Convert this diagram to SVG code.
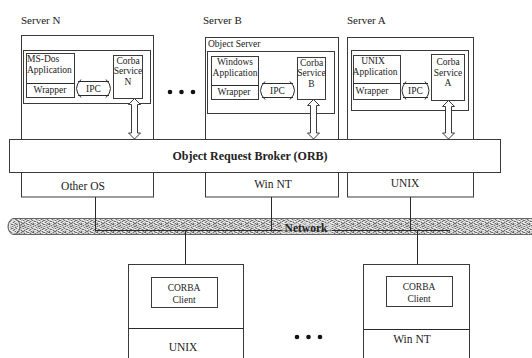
<svg xmlns="http://www.w3.org/2000/svg" width="532" height="358" viewBox="0 0 532 358">
<defs>
<pattern id="noise" width="16" height="8" patternUnits="userSpaceOnUse">
<rect width="16" height="8" fill="#c2c2c2"/>
<path d="M0 0h2v1H0zM5 0h1v1H5zM11 0h2v1h-2zM3 1h1v1H3zM8 1h1v1H8zM14 1h1v1h-1zM1 2h1v1H1zM6 2h2v1H6zM12 2h1v1h-1zM4 3h1v1H4zM9 3h1v1H9zM15 3h1v1h-1zM0 4h1v1H0zM7 4h1v1H7zM11 4h2v1h-2zM2 5h2v1H2zM10 5h1v1h-1zM14 5h1v1h-1zM5 6h1v1H5zM8 6h1v1H8zM13 6h1v1h-1zM1 7h1v1H1zM6 7h2v1H6zM10 7h1v1h-1zM15 7h1v1h-1z" fill="#6c6c6c"/>
<path d="M3 0h1v1H3zM9 0h1v1H9zM0 1h1v1H0zM11 1h2v1h-2zM4 2h1v1H4zM14 2h1v1h-1zM1 3h2v1H1zM7 3h1v1H7zM12 3h1v1h-1zM3 4h2v1H3zM9 4h1v1H9zM14 4h1v1h-1zM0 5h1v1H0zM6 5h2v1H6zM12 5h1v1h-1zM2 6h2v1H2zM10 6h2v1h-2zM15 6h1v1h-1zM4 7h1v1H4zM12 7h2v1h-2z" fill="#f2f2f2"/>
</pattern>
<style>
.box{fill:#fff;stroke:#3a3a3a;stroke-width:1}
.ln{fill:none;stroke:#2a2a2a;stroke-width:1}
.arr{fill:#fff;stroke:#3a3a3a;stroke-width:1}
.t{font-family:"Liberation Serif","Times New Roman",serif;font-size:9.5px;fill:#222}
.m{text-anchor:middle}
.lab{font-size:11px}
.os{font-size:11.5px}
.b{font-weight:bold;font-size:12px}
.dot{fill:#111}
</style>
</defs>
<rect width="532" height="358" fill="#fff"/>

<g id="serverN">
<text class="t lab" x="21" y="24">Server N</text>
<rect class="box" x="21.5" y="35.5" width="132" height="161.5"/>
<rect class="box" x="23.5" y="50.5" width="127" height="53"/>
<rect class="box" x="26.5" y="53.5" width="48" height="44"/>
<line class="ln" x1="26.5" y1="83.5" x2="74.5" y2="83.5"/>
<text class="t" x="27" y="62">MS-Dos</text>
<text class="t" x="27" y="73">Application</text>
<text class="t m" x="50" y="93">Wrapper</text>
<rect class="box" x="113.5" y="55.5" width="29" height="43"/>
<text class="t m" x="128" y="64">Corba</text>
<text class="t m" x="128" y="74">Service</text>
<text class="t m" x="128" y="85">N</text>
<path class="ln" d="M81 79.5 Q72 88.5 81 97.5 M78 81.5 H109 M78 95.5 H109 M106 79.5 Q115 88.5 106 97.5"/>
<text class="t m" x="93.5" y="92">IPC</text>
</g>

<g id="serverB">
<text class="t lab" x="203" y="24">Server B</text>
<rect class="box" x="205.5" y="37.5" width="133" height="159.5"/>
<text class="t" x="208" y="47">Object Server</text>
<rect class="box" x="207.5" y="51.5" width="127" height="62"/>
<rect class="box" x="211.5" y="56.5" width="47" height="43"/>
<line class="ln" x1="211.5" y1="85.5" x2="258.5" y2="85.5"/>
<text class="t m" x="235" y="65">Windows</text>
<text class="t m" x="235" y="76">Application</text>
<text class="t m" x="234" y="95">Wrapper</text>
<rect class="box" x="297.5" y="57.5" width="28" height="42"/>
<text class="t m" x="311.5" y="66">Corba</text>
<text class="t m" x="311.5" y="76">Service</text>
<text class="t m" x="311.5" y="87">B</text>
<path class="ln" d="M265 81.5 Q256 90.5 265 99.5 M262 83.5 H293 M262 97.5 H293 M290 81.5 Q299 90.5 290 99.5"/>
<text class="t m" x="277.5" y="94">IPC</text>
</g>

<g id="serverA">
<text class="t lab" x="347" y="24">Server A</text>
<rect class="box" x="347.5" y="37.5" width="126" height="159.5"/>
<rect class="box" x="351.5" y="50.5" width="117" height="60"/>
<rect class="box" x="353.5" y="55.5" width="47" height="44"/>
<line class="ln" x1="353.5" y1="83.5" x2="400.5" y2="83.5"/>
<text class="t m" x="373" y="64">UNIX</text>
<text class="t m" x="375" y="75">Application</text>
<text class="t m" x="372" y="94">Wrapper</text>
<rect class="box" x="431.5" y="54.5" width="33" height="46"/>
<text class="t m" x="448" y="65">Corba</text>
<text class="t m" x="448" y="76">Service</text>
<text class="t m" x="448" y="86">A</text>
<path class="ln" d="M406 81.5 Q398 90.5 406 99.5 M403 83.5 H428 M403 97.5 H428 M425 81.5 Q433 90.5 425 99.5"/>
<text class="t m" x="415.5" y="94">IPC</text>
</g>

<g id="dotsTop">
<circle class="dot" cx="170" cy="92" r="2.3"/>
<circle class="dot" cx="181.5" cy="92" r="2.3"/>
<circle class="dot" cx="193" cy="92" r="2.3"/>
</g>

<g id="orbArrows">
<path class="arr" d="M134.5 98.5 L140.5 104.5 L137.5 104.5 L137.5 133 L140.5 133 L134.5 139 L128.5 133 L131.5 133 L131.5 104.5 L128.5 104.5 Z"/>
<path class="arr" d="M313.5 99.5 L319.5 105.5 L316.5 105.5 L316.5 133 L319.5 133 L313.5 139 L307.5 133 L310.5 133 L310.5 105.5 L307.5 105.5 Z"/>
<path class="arr" d="M448.5 100.5 L454.5 106.5 L451.5 106.5 L451.5 133 L454.5 133 L448.5 139 L442.5 133 L445.5 133 L445.5 106.5 L442.5 106.5 Z"/>
</g>

<g id="orb">
<rect class="box" x="9.5" y="139.5" width="491" height="33"/>
<text class="t b m" x="250" y="160">Object Request Broker (ORB)</text>
</g>

<g id="osLabels">
<text class="t os m" x="83" y="190">Other OS</text>
<text class="t os m" x="273" y="188">Win NT</text>
<text class="t os m" x="405" y="187">UNIX</text>
</g>

<g id="network">
<rect x="14" y="218" width="520" height="17" fill="url(#noise)"/>
<line x1="14" y1="218.5" x2="532" y2="218.5" stroke="#666" stroke-width="1"/>
<line x1="14" y1="234.5" x2="532" y2="234.5" stroke="#666" stroke-width="1"/>
<ellipse cx="14" cy="226.5" rx="6" ry="8" fill="url(#noise)" stroke="#555" stroke-width="1"/>
<ellipse cx="14" cy="226.5" rx="4.5" ry="6.5" fill="none" stroke="#f4f4f4" stroke-width="1"/>
</g>

<g id="connectors">
<line class="ln" x1="95.5" y1="197" x2="95.5" y2="230.5"/>
<line class="ln" x1="271.5" y1="197" x2="271.5" y2="230.5"/>
<line class="ln" x1="410.5" y1="197" x2="410.5" y2="230.5"/>
<line class="ln" x1="95" y1="230.5" x2="450" y2="230.5"/>
<line class="ln" x1="185.5" y1="230.5" x2="185.5" y2="264"/>
<line class="ln" x1="417.5" y1="230.5" x2="417.5" y2="264"/>
</g>

<g id="networkLabel">
<rect x="282" y="223" width="50" height="11" fill="#e6e6e6" opacity="0.5"/>
<text class="t b m" x="306" y="232" style="font-size:11.5px">Network</text>
</g>

<g id="clientLeft">
<rect class="box" x="128.5" y="264.5" width="115" height="100"/>
<line class="ln" x1="128.5" y1="328.5" x2="243.5" y2="328.5"/>
<rect class="box" x="151.5" y="277.5" width="66" height="30"/>
<text class="t m" x="184" y="291">CORBA</text>
<text class="t m" x="184" y="303">Client</text>
<text class="t os m" x="183" y="351">UNIX</text>
</g>

<g id="clientRight">
<rect class="box" x="363.5" y="264.5" width="106" height="100"/>
<line class="ln" x1="363.5" y1="329.5" x2="469.5" y2="329.5"/>
<rect class="box" x="386.5" y="276.5" width="66" height="30"/>
<text class="t m" x="419" y="290">CORBA</text>
<text class="t m" x="419" y="302">Client</text>
<text class="t os m" x="412" y="343">Win NT</text>
</g>

<g id="dotsBottom">
<circle class="dot" cx="297" cy="337" r="2.3"/>
<circle class="dot" cx="308.5" cy="337" r="2.3"/>
<circle class="dot" cx="320" cy="337" r="2.3"/>
</g>
</svg>
